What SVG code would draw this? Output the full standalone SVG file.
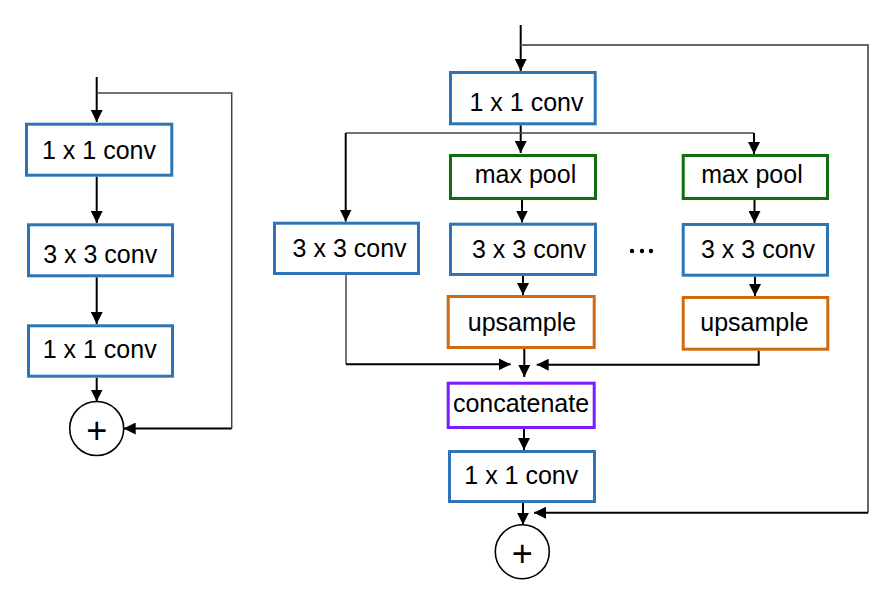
<svg xmlns="http://www.w3.org/2000/svg" width="886" height="591" viewBox="0 0 886 591">
<defs>
<style>
.box{fill:#ffffff;stroke-width:3}
.blue{stroke:#2E75B6}
.green{stroke:#0E6E10}
.orange{stroke:#D06A10}
.purple{stroke:#7B1BFF}
.lbl{font-family:"Liberation Sans",Arial,sans-serif;font-size:25px;fill:#000;text-anchor:middle}
.plus{font-family:"Liberation Sans",Arial,sans-serif;font-size:36px;fill:#000;text-anchor:middle}
.ring{fill:#ffffff;stroke:#000;stroke-width:1.6}
.c{fill:none;stroke:#000;stroke-width:2}
.thin{fill:none;stroke:#444;stroke-width:1.5}
</style>
<marker id="ah" markerUnits="userSpaceOnUse" markerWidth="12" markerHeight="12" refX="12" refY="6" orient="auto">
<path d="M0,0 L12,6 L0,12 z" fill="#000"/>
</marker>
</defs>

<g id="connectors">
<!-- left -->
<path class="c" d="M96.7,77 V122" marker-end="url(#ah)"/>
<path class="c" d="M96.7,176.7 V223" marker-end="url(#ah)"/>
<path class="c" d="M96.7,277.3 V324" marker-end="url(#ah)"/>
<path class="c" d="M96.7,377.7 V401.5" marker-end="url(#ah)"/>
<path class="thin" d="M96.7,93 H231.7 V428.5"/>
<path class="c" d="M231.7,428.5 H123.7" marker-end="url(#ah)"/>
<!-- right -->
<path class="c" d="M520.7,25 V71" marker-end="url(#ah)"/>
<path class="thin" d="M520.7,45 H868 V512.7" style="stroke:#666;stroke-width:2"/>
<path class="c" d="M868,512.7 H534" marker-end="url(#ah)"/>
<path class="c" d="M520.7,125.3 V153" marker-end="url(#ah)"/>
<path class="thin" d="M345.7,133 H754"/>
<path class="c" d="M345.7,133 V221.5" marker-end="url(#ah)"/>
<path class="c" d="M754,133 V154" marker-end="url(#ah)"/>
<path class="c" d="M522,200 V222.5" marker-end="url(#ah)"/>
<path class="c" d="M523,276 V295" marker-end="url(#ah)"/>
<path class="c" d="M754.5,200 V223" marker-end="url(#ah)"/>
<path class="c" d="M755,276.7 V296" marker-end="url(#ah)"/>
<path class="thin" d="M346,275 V364.3"/>
<path class="c" d="M346,364.3 H510.7" marker-end="url(#ah)"/>
<path class="c" d="M524.3,349 V377" marker-end="url(#ah)"/>
<path class="c" d="M758.7,350.7 V364.7 H536.7" marker-end="url(#ah)"/>
<path class="c" d="M524,429 V450" marker-end="url(#ah)"/>
<path class="c" d="M523,503 V524.7" marker-end="url(#ah)"/>
</g>

<!-- left diagram -->
<g id="L-conv1x1-a">
<rect class="box blue" x="26.5" y="124.2" width="145.3" height="51"/>
<text class="lbl" x="99" y="159.3">1 x 1 conv</text>
</g>
<g id="L-conv3x3">
<rect class="box blue" x="28.5" y="224.8" width="144" height="51"/>
<text class="lbl" x="100.2" y="262.7">3 x 3 conv</text>
</g>
<g id="L-conv1x1-b">
<rect class="box blue" x="28.5" y="325.8" width="144" height="50.4"/>
<text class="lbl" x="99.7" y="357.7">1 x 1 conv</text>
</g>
<g id="L-add">
<circle class="ring" cx="96.7" cy="428.5" r="27"/>
<text class="plus" x="96.7" y="443">+</text>
</g>

<!-- right diagram -->
<g id="R-conv1x1-top">
<rect class="box blue" x="450.5" y="72.5" width="144.7" height="51.3"/>
<text class="lbl" x="526.5" y="110.7">1 x 1 conv</text>
</g>
<g id="R-conv3x3-left">
<rect class="box blue" x="274.5" y="223.2" width="144" height="50.3"/>
<text class="lbl" x="349.6" y="257.3">3 x 3 conv</text>
</g>
<g id="R-maxpool-1">
<rect class="box green" x="450.5" y="155.5" width="145" height="43"/>
<text class="lbl" x="525.5" y="183.3">max pool</text>
</g>
<g id="R-conv3x3-1">
<rect class="box blue" x="450.5" y="224.2" width="145" height="50.3"/>
<text class="lbl" x="529" y="258.3">3 x 3 conv</text>
</g>
<g id="R-upsample-1">
<rect class="box orange" x="448.2" y="296.5" width="146" height="51"/>
<text class="lbl" x="522" y="330.7">upsample</text>
</g>
<g id="R-maxpool-2">
<rect class="box green" x="683.2" y="155.5" width="144.3" height="43"/>
<text class="lbl" x="752" y="183.3">max pool</text>
</g>
<g id="R-conv3x3-2">
<rect class="box blue" x="683.2" y="224.5" width="144.3" height="50.7"/>
<text class="lbl" x="758" y="258.3">3 x 3 conv</text>
</g>
<g id="R-upsample-2">
<rect class="box orange" x="683.2" y="297.5" width="144.6" height="51.7"/>
<text class="lbl" x="754.5" y="330.7">upsample</text>
</g>
<g id="R-ellipsis">
<circle cx="632" cy="251" r="2.2" fill="#000"/>
<circle cx="642" cy="251" r="2.2" fill="#000"/>
<circle cx="651" cy="251" r="2.2" fill="#000"/>
</g>
<g id="R-concatenate">
<rect class="box purple" x="448.2" y="383.2" width="146" height="44.3"/>
<text class="lbl" x="521" y="412.3">concatenate</text>
</g>
<g id="R-conv1x1-bottom">
<rect class="box blue" x="449.5" y="451.5" width="145" height="50"/>
<text class="lbl" x="521.3" y="484.3">1 x 1 conv</text>
</g>
<g id="R-add">
<circle class="ring" cx="522.3" cy="551.7" r="27"/>
<text class="plus" x="522.3" y="566">+</text>
</g>
</svg>
